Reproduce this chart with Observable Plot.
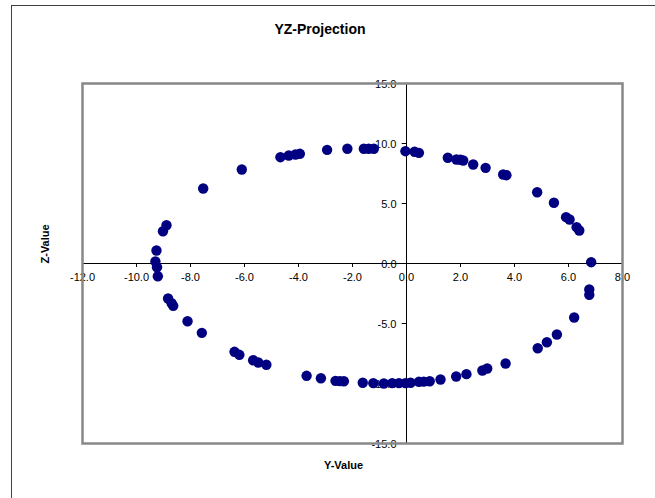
<!DOCTYPE html>
<html>
<head>
<meta charset="utf-8">
<script src="https://cdn.jsdelivr.net/npm/d3@7"></script>
<script src="https://cdn.jsdelivr.net/npm/@observablehq/plot@0.6"></script>
<style>
  html, body { margin: 0; padding: 0; background: #fff; }
  #wrap { position: relative; width: 655px; height: 498px; overflow: hidden; font-family: "Liberation Sans", Arial, sans-serif; }
  #border { position: absolute; left: 11px; top: 5px; width: 700px; height: 600px; border: 1.5px solid #404040; box-sizing: border-box; }
  #title { position: absolute; left: 0; top: 21px; width: 640px; text-align: center; font-weight: bold; font-size: 14px; color: #000; }
  #chart { position: absolute; left: 0; top: 0; }
</style>
</head>
<body>
<div id="wrap">
  <div id="border"></div>
  <div id="chart"></div>
  <div id="title">YZ-Projection</div>
</div>
<script>
// Y values of the points
const yValues = [
  -9.30, -9.26, -9.24, -9.21, -9.02, -8.89, -7.53, -6.10,
  -4.67, -4.36, -4.11, -3.95, -2.94, -2.19, -1.58, -1.40, -1.21,
  -0.04, 0.30, 0.46, 1.53, 1.85, 2.00, 2.10, 2.47, 2.93, 3.58, 3.70,
  4.84, 5.46, 5.91, 6.04, 6.30, 6.40, 6.84, 6.77, 6.77,
  6.21, 5.57, 5.20, 4.86, 3.67, 2.99, 2.81, 2.22, 1.84, 1.26, 0.86, 0.64, 0.46, 0.15,
  -0.04, -0.28, -0.53, -0.84, -1.23, -1.62, -2.32, -2.47, -2.63,
  -3.17, -3.70, -5.19, -5.49, -5.68, -6.19, -6.37, -7.58, -8.11, -8.64, -8.70, -8.83
];
// Z values of the points
const zValues = [
  0.17, 1.08, -0.31, -1.06, 2.69, 3.19, 6.25, 7.83,
  8.86, 9.00, 9.08, 9.14, 9.47, 9.56, 9.56, 9.56, 9.56,
  9.36, 9.31, 9.22, 8.81, 8.67, 8.64, 8.58, 8.25, 7.97, 7.42, 7.36,
  5.94, 5.06, 3.86, 3.67, 3.03, 2.75, 0.11, -2.17, -2.61,
  -4.50, -5.92, -6.56, -7.06, -8.33, -8.75, -8.92, -9.22, -9.42, -9.67, -9.81, -9.84, -9.86, -9.94,
  -9.97, -9.97, -9.97, -10.0, -9.97, -9.94, -9.81, -9.80, -9.78,
  -9.56, -9.36, -8.44, -8.25, -8.06, -7.61, -7.36, -5.78, -4.81, -3.53, -3.31, -2.92
];
const xTicks = [-12, -10, -8, -6, -4, -2, 0, 2, 4, 6, 8];
const yTicks = [-15, -10, -5, 0, 5, 10, 15];

const points = yValues.map((y, i) => ({y, z: zValues[i]}));
const font = "Liberation Sans, Arial, sans-serif";

const chart = Plot.plot({
  width: 655,
  height: 498,
  marginLeft: 82,
  marginRight: 33,
  marginTop: 83,
  marginBottom: 55,
  style: {fontFamily: font, background: "transparent", overflow: "visible"},
  x: {domain: [-12, 8], axis: null},
  y: {domain: [-15, 15], axis: null},
  marks: [
    Plot.ruleY([0], {stroke: "#000", strokeWidth: 1}),
    Plot.ruleX([0], {stroke: "#000", strokeWidth: 1}),
    Plot.ruleX(xTicks, {x: d => d, y1: 0, y2: -0.33, stroke: "#000", strokeWidth: 1}),
    Plot.ruleY(yTicks, {y: d => d, x1: 0, x2: -0.16, stroke: "#000", strokeWidth: 1}),
    Plot.text(xTicks, {x: d => d, y: 0, text: d => d.toFixed(1), dy: 14, fontSize: 11, fill: "#000"}),
    Plot.text(yTicks, {x: 0, y: d => d, text: d => d.toFixed(1), textAnchor: "end", dx: -10, dy: 1, fontSize: 11, fill: "#000"}),
    Plot.frame({stroke: "#888", strokeWidth: 2.5}),
    Plot.dot(points, {x: "y", y: "z", r: 5.2, fill: "#000080", stroke: "none"}),
    Plot.text(["Y-Value"], {frameAnchor: "bottom", dx: -9, dy: 25, fontSize: 11, fontWeight: "bold", fill: "#000"}),
    Plot.text(["Z-Value"], {frameAnchor: "left", dx: -37, rotate: -90, fontSize: 11, fontWeight: "bold", fill: "#000"})
  ]
});
document.getElementById("chart").appendChild(chart);
</script>
</body>
</html>
